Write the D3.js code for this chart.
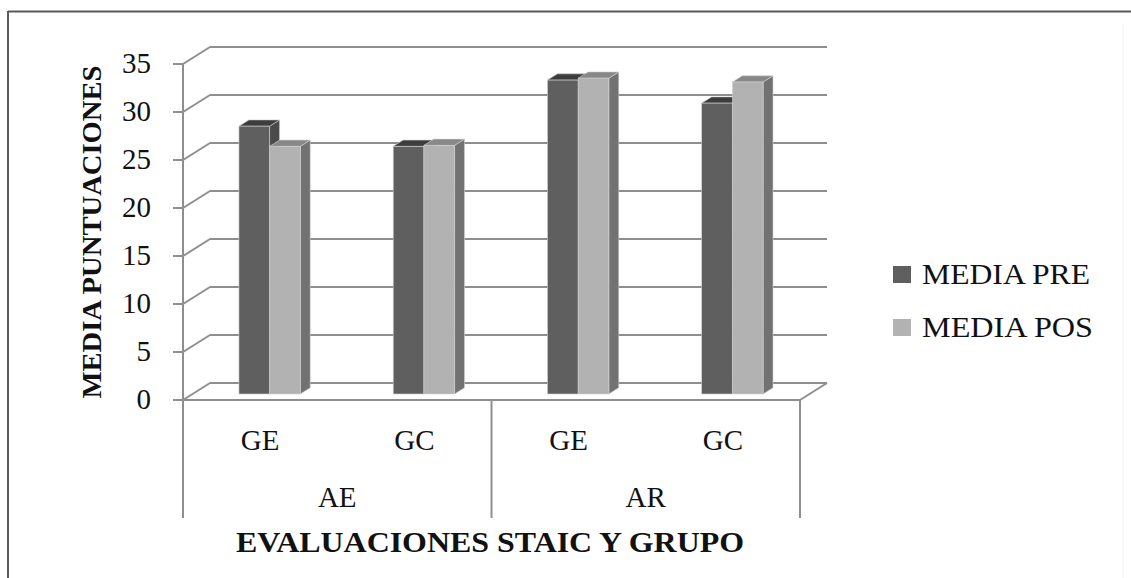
<!DOCTYPE html>
<html>
<head>
<meta charset="utf-8">
<script src="https://cdn.jsdelivr.net/npm/d3@7"></script>
<style>
body { margin: 0; background: #fff; }
</style>
</head>
<body>
<script>
/* chart data */
var groups = ["AE", "AR"];
var subgroups = ["GE", "GC"];
var categories = ["AE-GE", "AE-GC", "AR-GE", "AR-GC"];
var series = ["MEDIA PRE", "MEDIA POS"];
var mediaPre = [27.9, 25.8, 32.7, 30.3];
var mediaPos = [25.8, 25.9, 32.9, 32.5];
var yTicks = [0, 5, 10, 15, 20, 25, 30, 35];

/* colours: front, top, side */
var colours = [
	{front: "#5f5f5f", top: "#3d3d3d", side: "#4a4a4a"},
	{front: "#b2b2b2", top: "#888888", side: "#727272"}
];
var gridColour = "#8e8e8e";
var serifFont = "'Liberation Serif', 'Times New Roman', Tinos, 'DejaVu Serif', serif";

var svg = d3.select("body").append("svg")
	.attr("width", 1131).attr("height", 578)
	.attr("font-family", serifFont);

/* frame (cropped picture border) */
svg.append("line").attr("x1", 8).attr("x2", 1131).attr("y1", 11.5).attr("y2", 11.5)
	.style("stroke", "#5a5a5a").style("stroke-width", 2);
svg.append("line").attr("x1", 8).attr("x2", 8).attr("y1", 11).attr("y2", 578)
	.style("stroke", "#5a5a5a").style("stroke-width", 2);
svg.append("line").attr("x1", 1123).attr("x2", 1123).attr("y1", 24).attr("y2", 578)
	.style("stroke", "#f2f2f2").style("stroke-width", 1);

/* 3d set-up: front plane + depth offset */
var left = 183, right = 800, depthX = 27, depthY = -17;
var y = d3.scaleLinear().domain([0, 35]).range([400, 64]);
var x0 = d3.scaleBand().domain(categories).range([left, right]).paddingInner(0.602).paddingOuter(0.301);
var xCat = d3.scaleBand().domain(categories).range([left, right]);
var xGroup = d3.scaleBand().domain(groups).range([left, right]);
var x1 = d3.scaleBand().domain(series).range([0, x0.bandwidth()]);
var zFront = 0.353, zBack = 0.72;

function px(x, z) { return x + z * depthX; }
function py(yy, z) { return yy + z * depthY; }

var grid = svg.append("g");
/* back wall gridlines and left wall diagonals */
yTicks.forEach(function(t) {
	grid.append("line")
		.attr("x1", px(left, 1)).attr("x2", px(right, 1))
		.attr("y1", py(y(t), 1)).attr("y2", py(y(t), 1))
		.style("stroke", gridColour).style("stroke-width", 2);
	grid.append("line")
		.attr("x1", left).attr("x2", px(left, 1))
		.attr("y1", y(t)).attr("y2", py(y(t), 1))
		.style("stroke", gridColour).style("stroke-width", 2);
});
/* floor right edge */
grid.append("line")
	.attr("x1", right).attr("x2", px(right, 1))
	.attr("y1", y(0)).attr("y2", py(y(0), 1))
	.style("stroke", gridColour).style("stroke-width", 2);

/* bars */
var values = [mediaPre, mediaPos];
var bars = svg.append("g");
categories.forEach(function(c, i) {
	series.forEach(function(s, j) {
		var v = values[j][i];
		var xl = x0(c) + x1(s), xr = xl + x1.bandwidth();
		var yb = y(0), yt = y(v);
		var col = colours[j];
		var edge = "#d0d0d0";
		// side face
		bars.append("path")
			.attr("d", "M" + px(xr, zFront) + "," + py(yb, zFront) +
				"L" + px(xr, zBack) + "," + py(yb, zBack) +
				"L" + px(xr, zBack) + "," + py(yt, zBack) +
				"L" + px(xr, zFront) + "," + py(yt, zFront) + "Z")
			.attr("fill", col.side).attr("stroke", edge).attr("stroke-width", 0.6);
		// top face
		bars.append("path")
			.attr("d", "M" + px(xl, zFront) + "," + py(yt, zFront) +
				"L" + px(xr, zFront) + "," + py(yt, zFront) +
				"L" + px(xr, zBack) + "," + py(yt, zBack) +
				"L" + px(xl, zBack) + "," + py(yt, zBack) + "Z")
			.attr("fill", col.top).attr("stroke", edge).attr("stroke-width", 0.6);
		// front face
		bars.append("rect")
			.attr("x", px(xl, zFront)).attr("y", py(yt, zFront))
			.attr("width", xr - xl).attr("height", yb - yt)
			.attr("fill", col.front).attr("stroke", edge).attr("stroke-width", 0.6);
	});
});

/* front axes */
var axes = svg.append("g");
axes.append("line").attr("x1", left).attr("x2", left).attr("y1", y(35)).attr("y2", 518)
	.style("stroke", gridColour).style("stroke-width", 2);
axes.append("line").attr("x1", left - 10).attr("x2", right).attr("y1", y(0)).attr("y2", y(0))
	.style("stroke", gridColour).style("stroke-width", 2);
yTicks.forEach(function(t) {
	axes.append("line").attr("x1", left - 10).attr("x2", left).attr("y1", y(t)).attr("y2", y(t))
		.style("stroke", gridColour).style("stroke-width", 2);
	axes.append("text").attr("x", 151).attr("y", y(t) + 9)
		.attr("text-anchor", "end").attr("font-family", serifFont).attr("fill", "#111")
		.style("font-size", "29px").text(t);
});
/* group dividers */
[xGroup("AR"), right].forEach(function(d) {
	axes.append("line").attr("x1", d).attr("x2", d).attr("y1", y(0)).attr("y2", 518)
		.style("stroke", gridColour).style("stroke-width", 2);
});

/* category labels */
categories.forEach(function(c, i) {
	axes.append("text").attr("x", xCat(c) + xCat.bandwidth() / 2).attr("y", 450)
		.attr("text-anchor", "middle").attr("font-family", serifFont).attr("fill", "#111")
		.style("font-size", "29px").text(subgroups[i % 2]);
});
groups.forEach(function(g) {
	axes.append("text").attr("x", xGroup(g) + xGroup.bandwidth() / 2).attr("y", 507)
		.attr("text-anchor", "middle").attr("font-family", serifFont).attr("fill", "#111")
		.style("font-size", "29px").text(g);
});

/* axis titles */
svg.append("text").attr("x", 490).attr("y", 552)
	.attr("text-anchor", "middle").attr("font-family", serifFont).attr("fill", "#111")
	.attr("textLength", 508).attr("lengthAdjust", "spacingAndGlyphs")
	.style("font-size", "29px").style("font-weight", "bold")
	.text("EVALUACIONES STAIC Y GRUPO");
svg.append("text").attr("transform", "translate(101,232) rotate(-90)")
	.attr("text-anchor", "middle").attr("font-family", serifFont).attr("fill", "#111")
	.attr("textLength", 333).attr("lengthAdjust", "spacingAndGlyphs")
	.style("font-size", "28px").style("font-weight", "bold")
	.text("MEDIA PUNTUACIONES");

/* legend */
var legend = svg.append("g");
var legendWidths = [168, 171];
series.forEach(function(s, j) {
	legend.append("rect").attr("x", 893).attr("y", 266 + j * 53).attr("width", 18).attr("height", 17)
		.attr("fill", colours[j].front);
	legend.append("text").attr("x", 922).attr("y", 284 + j * 53)
		.attr("font-family", serifFont).attr("fill", "#111")
		.attr("textLength", legendWidths[j]).attr("lengthAdjust", "spacingAndGlyphs")
		.style("font-size", "29px").text(s);
});
</script>
</body>
</html>
